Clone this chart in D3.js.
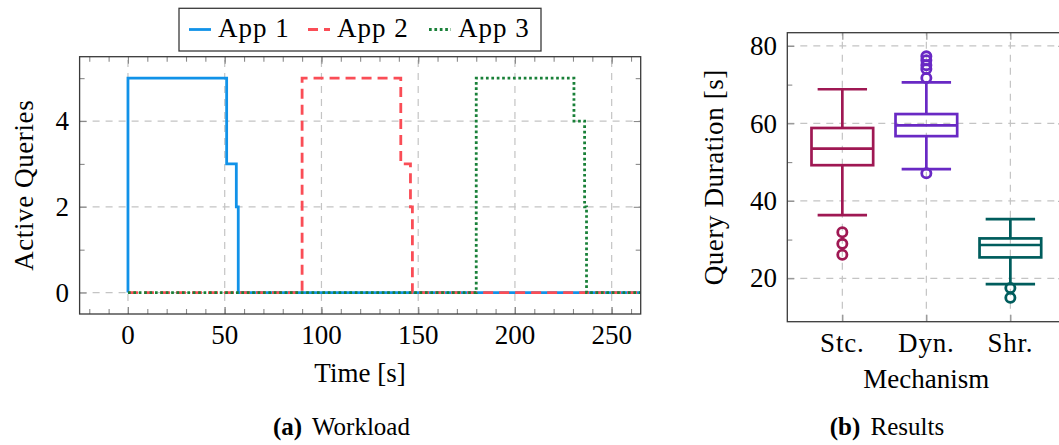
<!DOCTYPE html>
<html>
<head>
<meta charset="utf-8">
<script src="https://cdn.jsdelivr.net/npm/d3@7"></script>
<style>
body { margin: 0; background: #fff; }
svg { display: block; font-family: "Liberation Serif", serif; }
</style>
</head>
<body>
<svg width="1059" height="445"></svg>
<script>
// (a) Workload - active queries per app, step series
var app1Time = [0, 0, 51, 56, 57, 265];
var app1Active = [0, 5, 3, 2, 0, 0];
var app2Time = [0, 90, 141, 146, 147, 265];
var app2Active = [0, 5, 3, 2, 0, 0];
var app3Time = [0, 180, 230.5, 236, 237, 265];
var app3Active = [0, 5, 4, 2, 0, 0];
var appNames = ["App 1", "App 2", "App 3"];
var timeTicks = [0, 50, 100, 150, 200, 250];
var activeTicks = [0, 2, 4];

// (b) Results - query duration box plots
var mechanisms = ["Stc.", "Dyn.", "Shr."];
var lowerWhisker = [36.3, 48.2, 18.5];
var lowerQuartile = [49.2, 56.7, 25.4];
var medians = [53.5, 59.5, 28.6];
var upperQuartile = [58.8, 62.4, 30.3];
var upperWhisker = [68.8, 70.6, 35.3];
var outliers = [[26.1, 28.9, 31.9], [47.1, 71.7, 74.0, 75.0, 76.3, 77.3], [15.0, 17.5]];
var durationTicks = [20, 40, 60, 80];

var svg = d3.select("svg");
var fontSize = 27;
var gridColor = "#c4c4c4";
var tickColor = "#8a8a8a";
var frameColor = "#3a3a3a";

function drawGrid(g, xs, ys, xValues, yValues) {
    var r = xs.range(), d = ys.range();
    g.append("g").selectAll("line").data(xValues).enter().append("line")
        .attr("x1", xs).attr("x2", xs)
        .attr("y1", d[0]).attr("y2", d[1]);
    g.append("g").selectAll("line").data(yValues).enter().append("line")
        .attr("y1", ys).attr("y2", ys)
        .attr("x1", r[0]).attr("x2", r[1]);
    g.selectAll("line")
        .attr("stroke", gridColor)
        .attr("stroke-width", 1.2)
        .attr("stroke-dasharray", "7,6");
}

// tick marks pointing inward on all four sides
function drawTicks(g, xs, ys, xValues, yValues, len) {
    var left = xs.range()[0], right = xs.range()[1];
    var bottom = ys.range()[0], top = ys.range()[1];
    g.append("g").attr("transform", "translate(0," + bottom + ")")
        .call(d3.axisBottom(xs).tickValues(xValues).tickSize(-len).tickFormat(""));
    g.append("g").attr("transform", "translate(0," + top + ")")
        .call(d3.axisTop(xs).tickValues(xValues).tickSize(-len).tickFormat(""));
    g.append("g").attr("transform", "translate(" + left + ",0)")
        .call(d3.axisLeft(ys).tickValues(yValues).tickSize(-len).tickFormat(""));
    g.append("g").attr("transform", "translate(" + right + ",0)")
        .call(d3.axisRight(ys).tickValues(yValues).tickSize(-len).tickFormat(""));
    g.selectAll(".domain").remove();
    g.selectAll(".tick line").attr("stroke", tickColor).attr("stroke-width", 1.1);
}

function drawFrame(g, xs, ys) {
    var r = xs.range(), d = ys.range();
    g.append("rect")
        .attr("x", r[0]).attr("y", d[1])
        .attr("width", r[1] - r[0]).attr("height", d[0] - d[1])
        .attr("fill", "none")
        .attr("stroke", frameColor)
        .attr("stroke-width", 1.3);
}

/* ---------- (a) Workload ---------- */
var x = d3.scaleLinear().domain([-25, 265]).range([79.6, 640.7]);
var y = d3.scaleLinear().domain([-0.5, 5.5]).range([314, 56.7]);

var left = svg.append("g");
drawGrid(left, x, y, timeTicks, activeTicks);
drawTicks(left, x, y, d3.range(-20, 261, 10), [1, 3, 5], 5);
drawTicks(left, x, y, timeTicks, activeTicks, 7);

left.append("clipPath").attr("id", "clipA")
    .append("rect").attr("x", 79.6).attr("y", 56.7)
    .attr("width", 640.7 - 79.6).attr("height", 314 - 56.7);

var appTimes = [app1Time, app2Time, app3Time];
var appActive = [app1Active, app2Active, app3Active];
var appColors = ["#1192e8", "#fa4d56", "#198038"];
var appDash = [null, "10,6", "2.7,2.7"];

var series = appNames.map(function (name, k) {
    return appTimes[k].map(function (t, i) { return { t: t, v: appActive[k][i] }; });
});

var line = d3.line()
    .x(function (d) { return x(d.t); })
    .y(function (d) { return y(d.v); })
    .curve(d3.curveStepAfter);

left.append("g").attr("clip-path", "url(#clipA)")
    .selectAll("path").data(series).enter().append("path")
    .attr("d", line)
    .attr("fill", "none")
    .attr("stroke", function (d, k) { return appColors[k]; })
    .attr("stroke-width", 2.8)
    .attr("stroke-dasharray", function (d, k) { return appDash[k]; });

drawFrame(left, x, y);

left.selectAll(".xlab").data(timeTicks).enter().append("text")
    .attr("x", x).attr("y", 344.3)
    .attr("text-anchor", "middle")
    .attr("font-size", fontSize)
    .text(function (d) { return d; });

left.selectAll(".ylab").data(activeTicks).enter().append("text")
    .attr("x", 69).attr("y", y).attr("dy", "0.34em")
    .attr("text-anchor", "end")
    .attr("font-size", fontSize)
    .text(function (d) { return d; });

left.append("text")
    .attr("x", 360).attr("y", 382)
    .attr("text-anchor", "middle")
    .attr("font-size", fontSize)
    .text("Time [s]");

left.append("text")
    .attr("transform", "translate(33,185.3) rotate(-90)")
    .attr("text-anchor", "middle")
    .attr("font-size", fontSize)
    .attr("letter-spacing", 0.6)
    .text("Active Queries");

// legend
var legend = svg.append("g");
legend.append("rect")
    .attr("x", 179).attr("y", 8.3).attr("width", 362).attr("height", 42.7)
    .attr("fill", "#fff").attr("stroke", frameColor).attr("stroke-width", 1.3);

var legendX = [189, 308, 429];
var item = legend.selectAll(".item").data(appNames).enter().append("g");
item.append("line")
    .attr("x1", function (d, k) { return legendX[k]; })
    .attr("x2", function (d, k) { return legendX[k] + 22; })
    .attr("y1", 29.5).attr("y2", 29.5)
    .attr("stroke", function (d, k) { return appColors[k]; })
    .attr("stroke-width", 2.8)
    .attr("stroke-dasharray", function (d, k) { return appDash[k]; });
item.append("text")
    .attr("x", function (d, k) { return legendX[k] + 29; })
    .attr("y", 37)
    .attr("font-size", 27)
    .attr("letter-spacing", 1)
    .text(function (d) { return d; });

/* ---------- (b) Results ---------- */
var bx = d3.scaleLinear().domain([0.345, 3.655]).range([787.3, 1065.4]);
var by = d3.scaleLinear().domain([8.8, 83.4]).range([321.7, 32.7]);
var boxColors = ["#9f1853", "#6929c4", "#005d5d"];
var positions = mechanisms.map(function (m, i) { return i + 1; });

var right = svg.append("g");
drawGrid(right, bx, by, positions, durationTicks);
drawTicks(right, bx, by, [], [30, 50, 70], 5);
drawTicks(right, bx, by, positions, durationTicks, 7);

var box = right.selectAll(".box").data(mechanisms).enter().append("g")
    .attr("stroke", function (d, i) { return boxColors[i]; })
    .attr("stroke-width", 2.7)
    .attr("fill", "none");

box.append("rect")
    .attr("x", function (d, i) { return bx(positions[i] - 0.367); })
    .attr("width", function (d, i) { return bx(positions[i] + 0.367) - bx(positions[i] - 0.367); })
    .attr("y", function (d, i) { return by(upperQuartile[i]); })
    .attr("height", function (d, i) { return by(lowerQuartile[i]) - by(upperQuartile[i]); });

box.append("line")
    .attr("x1", function (d, i) { return bx(positions[i] - 0.367); })
    .attr("x2", function (d, i) { return bx(positions[i] + 0.367); })
    .attr("y1", function (d, i) { return by(medians[i]); })
    .attr("y2", function (d, i) { return by(medians[i]); });

// whiskers: stem + cap
[[upperQuartile, upperWhisker], [lowerQuartile, lowerWhisker]].forEach(function (pair) {
    box.append("line")
        .attr("x1", function (d, i) { return bx(positions[i]); })
        .attr("x2", function (d, i) { return bx(positions[i]); })
        .attr("y1", function (d, i) { return by(pair[0][i]); })
        .attr("y2", function (d, i) { return by(pair[1][i]); });
    box.append("line")
        .attr("x1", function (d, i) { return bx(positions[i] - 0.294); })
        .attr("x2", function (d, i) { return bx(positions[i] + 0.294); })
        .attr("y1", function (d, i) { return by(pair[1][i]); })
        .attr("y2", function (d, i) { return by(pair[1][i]); });
});

box.each(function (d, i) {
    d3.select(this).selectAll("circle").data(outliers[i]).enter().append("circle")
        .attr("cx", bx(positions[i]))
        .attr("cy", function (v) { return by(v); })
        .attr("r", 4.6)
        .attr("stroke-width", 2.8);
});

drawFrame(right, bx, by);

right.selectAll(".xlab").data(mechanisms).enter().append("text")
    .attr("x", function (d, i) { return bx(positions[i]); })
    .attr("y", 351.7)
    .attr("text-anchor", "middle")
    .attr("font-size", fontSize)
    .attr("letter-spacing", 0.8)
    .text(function (d) { return d; });

right.selectAll(".ylab").data(durationTicks).enter().append("text")
    .attr("x", 777).attr("y", by).attr("dy", "0.34em")
    .attr("text-anchor", "end")
    .attr("font-size", fontSize)
    .text(function (d) { return d; });

right.append("text")
    .attr("x", bx(2)).attr("y", 388)
    .attr("text-anchor", "middle")
    .attr("font-size", fontSize)
    .text("Mechanism");

right.append("text")
    .attr("transform", "translate(723,177.2) rotate(-90)")
    .attr("text-anchor", "middle")
    .attr("font-size", fontSize)
    .attr("letter-spacing", 0.6)
    .text("Query Duration [s]");

/* ---------- captions ---------- */
var captions = [["(a)", " Workload", 341.5], ["(b)", " Results", 887]];
captions.forEach(function (c) {
    var t = svg.append("text")
        .attr("x", c[2]).attr("y", 435)
        .attr("text-anchor", "middle")
        .attr("font-size", 25)
        .attr("word-spacing", 4);
    t.append("tspan").attr("font-weight", "bold").text(c[0]);
    t.append("tspan").attr("xml:space", "preserve").text(c[1]);
});
</script>
</body>
</html>
